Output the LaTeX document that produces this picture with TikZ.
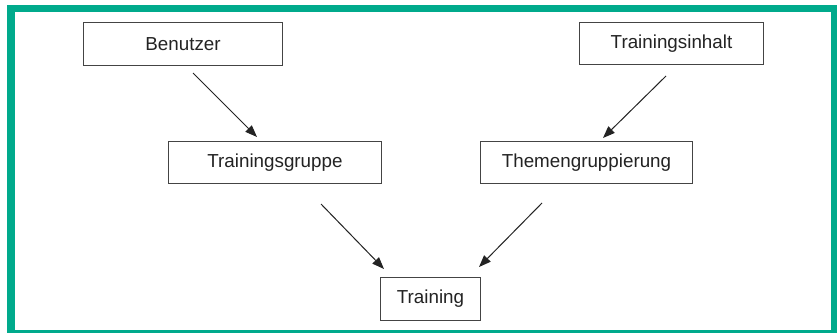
\documentclass[tikz,border=0pt]{standalone}
\usepackage{fontspec}
\setmainfont{Liberation Sans}
\usetikzlibrary{arrows.meta}
\definecolor{frame}{RGB}{0,170,140}
\definecolor{ink}{RGB}{35,35,35}
\begin{document}
\begin{tikzpicture}[x=1pt,y=-1pt,
  box/.style={draw=ink!85, line width=1pt, fill=white, inner sep=0pt, text=ink,
    font=\fontsize{18.8}{20}\selectfont, anchor=north west},
  conn/.style={draw=ink, line width=1pt, -{Triangle[length=12pt,width=9pt]}}]
\useasboundingbox (0,0) rectangle (837,332);
\clip (0,0) rectangle (837,332);
\fill[white] (0,0) rectangle (837,332);
\draw[frame, line width=7.5pt] (11,8.5) rectangle (835,333.5);
\node[box, minimum width=199pt, minimum height=43pt] (ben) at (83,22) {Benutzer};
\node[box, minimum width=184pt, minimum height=42pt] (inh) at (579,22) {Trainingsinhalt};
\node[box, minimum width=213pt, minimum height=42pt] (grp) at (168,141) {Trainingsgruppe};
\node[box, minimum width=212pt, minimum height=42pt] (thm) at (480,141) {Themengruppierung};
\node[box, minimum width=100pt, minimum height=43pt] (trn) at (380,277) {Training};
\coordinate (a1s) at (193,73);  \coordinate (a1e) at (257,137);
\coordinate (a2s) at (666,76);  \coordinate (a2e) at (603,138);
\coordinate (a3s) at (321,204); \coordinate (a3e) at (384,269);
\coordinate (a4s) at (542,203); \coordinate (a4e) at (479,267);
\draw[conn] (a1s) -- (a1e);
\draw[conn] (a2s) -- (a2e);
\draw[conn] (a3s) -- (a3e);
\draw[conn] (a4s) -- (a4e);
\end{tikzpicture}
\end{document}
